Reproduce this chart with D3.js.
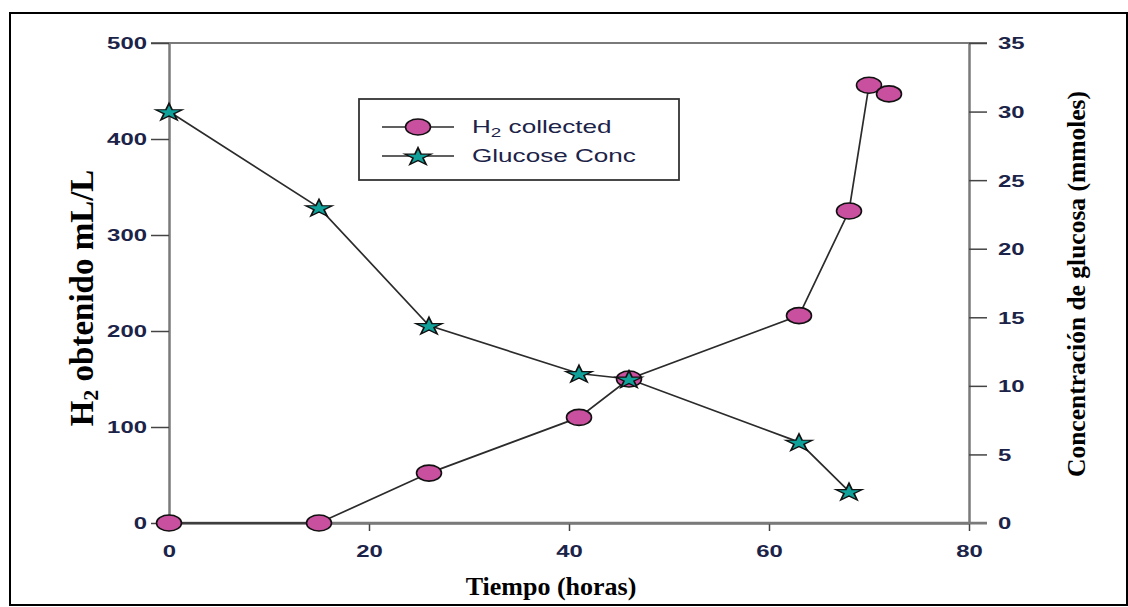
<!DOCTYPE html>
<html><head><meta charset="utf-8">
<script src="https://cdn.jsdelivr.net/npm/d3@7"></script>
<style>body{margin:0;background:#fff}svg{display:block}</style>
</head><body>
<script>
const timeH2 = [0, 15, 26, 41, 46, 63, 68, 70, 72];
const h2Collected = [0, 0, 52, 110, 150, 216, 325, 456, 447];
const timeGlucose = [0, 15, 26, 41, 46, 63, 68];
const glucoseConc = [30, 23, 14.4, 10.9, 10.5, 5.9, 2.3];
const xTicks = [0, 20, 40, 60, 80];
const yLeftTicks = [0, 100, 200, 300, 400, 500];
const yRightTicks = [0, 5, 10, 15, 20, 25, 30, 35];
const legendLabels = ["H2 collected", "Glucose Conc"];

const W = 1128, H = 607;
const SX = 1.45; // horizontal stretch of the original figure's sans text
const svg = d3.select("body").append("svg").attr("width", W).attr("height", H);
const m = {l: 169, r: 969, t: 43, b: 523};
const x = d3.scaleLinear().domain([0, 80]).range([m.l, m.r]);
const yL = d3.scaleLinear().domain([0, 500]).range([m.b, m.t]);
const yR = d3.scaleLinear().domain([0, 35]).range([m.b, m.t]);

// frame
svg.append("rect").attr("x", 10).attr("y", 13).attr("width", 1117).attr("height", 592)
  .attr("fill", "none").attr("stroke", "#000").attr("stroke-width", 2);

const axisColor = "#7a7a7a";
const labelColor = "#1c2348";
const sans = "Liberation Sans, Arial, sans-serif";
const serif = "Liberation Serif, Times New Roman, serif";
function styleAxis(g) {
  g.select(".domain").attr("stroke", axisColor).attr("stroke-width", 2.5);
  g.selectAll(".tick line").attr("stroke", "#444").attr("stroke-width", 1.5);
  g.selectAll(".tick text").attr("fill", labelColor).attr("font-family", sans)
    .attr("font-weight", "bold").attr("font-size", 16.5);
}
// top line
svg.append("line").attr("x1", m.l - 18).attr("x2", m.r + 18).attr("y1", m.t).attr("y2", m.t)
  .attr("stroke", axisColor).attr("stroke-width", 2);

const gx = svg.append("g").attr("transform", `translate(0,${m.b})`)
  .call(d3.axisBottom(x).tickValues(xTicks).tickSize(8).tickSizeOuter(0));
styleAxis(gx);
gx.selectAll(".tick text").attr("y", 34).attr("dy", 0).attr("transform", `scale(${SX},1)`);

const gyl = svg.append("g").attr("transform", `translate(${m.l},0)`)
  .call(d3.axisLeft(yL).tickValues(yLeftTicks).tickSize(18).tickSizeOuter(0));
styleAxis(gyl);
gyl.selectAll(".tick text").attr("x", -22 / SX).attr("dy", "0.36em").attr("transform", `scale(${SX},1)`);

const gyr = svg.append("g").attr("transform", `translate(${m.r},0)`)
  .call(d3.axisRight(yR).tickValues(yRightTicks).tickSize(18).tickSizeOuter(0));
styleAxis(gyr);
gyr.selectAll(".tick text").attr("x", 29 / SX).attr("dy", "0.36em").attr("transform", `scale(${SX},1)`);

// bottom axis line extends to right tick
svg.append("line").attr("x1", m.l).attr("x2", m.r + 18).attr("y1", m.b).attr("y2", m.b)
  .attr("stroke", axisColor).attr("stroke-width", 2.5);

// titles
svg.append("text").attr("x", 551).attr("y", 595).attr("text-anchor", "middle")
  .attr("font-family", serif).attr("font-weight", "bold")
  .attr("font-size", 26).text("Tiempo (horas)");
const lt = svg.append("text").attr("transform", "translate(93,298) rotate(-90)").attr("text-anchor", "middle")
  .attr("font-family", serif).attr("font-weight", "bold")
  .attr("font-size", 33);
lt.append("tspan").text("H");
lt.append("tspan").attr("font-size", 22).attr("dy", 5).text("2");
lt.append("tspan").attr("dy", -5).text(" obtenido mL/L");
svg.append("text").attr("transform", "translate(1085,284) rotate(-90)").attr("text-anchor", "middle")
  .attr("font-family", serif).attr("font-weight", "bold")
  .attr("font-size", 25.5).text("Concentración de glucosa (mmoles)");

// series
const h2Data = timeH2.map((t, i) => [t, h2Collected[i]]);
const gluData = timeGlucose.map((t, i) => [t, glucoseConc[i]]);
const lineColor = "#2b2b2b";
svg.append("path").datum(gluData).attr("fill", "none").attr("stroke", lineColor).attr("stroke-width", 1.7)
  .attr("d", d3.line().x(d => x(d[0])).y(d => yR(d[1])));
svg.append("path").datum(h2Data).attr("fill", "none").attr("stroke", lineColor).attr("stroke-width", 1.7)
  .attr("d", d3.line().x(d => x(d[0])).y(d => yL(d[1])));

const pink = "#c9509f", teal = "#10a19b";
const star = d3.symbol().type(d3.symbolStar).size(95);
function drawEllipse(g, cx, cy) {
  g.append("ellipse").attr("cx", cx).attr("cy", cy).attr("rx", 12.5).attr("ry", 8)
    .attr("fill", pink).attr("stroke", "#111").attr("stroke-width", 1.6);
}
function drawStar(g, cx, cy) {
  g.append("path").attr("d", star).attr("transform", `translate(${cx},${cy + 1}) scale(1.5,1)`)
    .attr("fill", teal).attr("stroke", "#111").attr("stroke-width", 1.2);
}
const gm = svg.append("g");
h2Data.forEach(d => drawEllipse(gm, x(d[0]), yL(d[1])));
gluData.forEach(d => drawStar(gm, x(d[0]), yR(d[1])));

// legend
const lg = svg.append("g");
lg.append("rect").attr("x", 359).attr("y", 99).attr("width", 320).attr("height", 81)
  .attr("fill", "#fff").attr("stroke", "#333").attr("stroke-width", 1.8);
[127, 156].forEach((ly, i) => {
  lg.append("line").attr("x1", 382).attr("x2", 454).attr("y1", ly).attr("y2", ly)
    .attr("stroke", lineColor).attr("stroke-width", 1.7);
  if (i === 0) drawEllipse(lg, 418, ly); else drawStar(lg, 418, ly);
});
const lt1 = lg.append("text").attr("transform", `translate(472,133) scale(${SX},1)`).attr("fill", labelColor)
  .attr("font-family", sans).attr("font-size", 18);
lt1.append("tspan").text("H");
lt1.append("tspan").attr("font-size", 13).attr("dy", 4).text("2");
lt1.append("tspan").attr("dy", -4).text(" collected");
lg.append("text").attr("transform", `translate(472,162) scale(${SX},1)`).attr("fill", labelColor)
  .attr("font-family", sans).attr("font-size", 18).text(legendLabels[1]);
</script>
</body></html>
